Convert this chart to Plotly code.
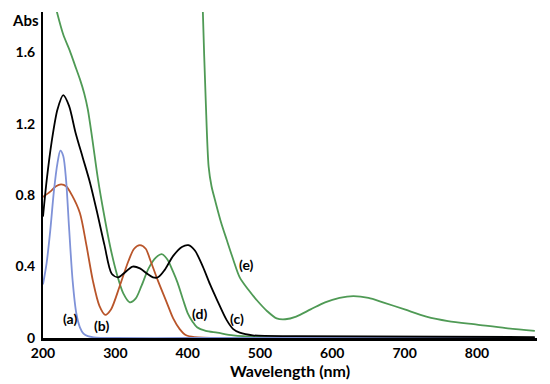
import plotly.graph_objects as go

# Curve (a) - blue
a_x = [200, 205, 210, 215, 220, 224, 228, 232, 236, 241, 246, 251, 256, 262, 270, 300, 400, 500, 600, 700, 800, 880]
a_y = [0.30, 0.42, 0.60, 0.82, 0.98, 1.05, 1.02, 0.88, 0.62, 0.32, 0.14, 0.06, 0.025, 0.01, 0.004, 0.0, 0.0, 0.0, 0.0, 0.0, 0.0, 0.0]

# Curve (b) - red/brown
b_x = [200, 210, 218, 225, 232, 240, 251, 260, 269, 278, 286, 294, 306, 318, 326, 334, 342, 348, 359, 371, 380, 389, 398, 410, 450, 600, 880]
b_y = [0.79, 0.82, 0.85, 0.86, 0.85, 0.80, 0.70, 0.52, 0.32, 0.18, 0.13, 0.16, 0.29, 0.43, 0.50, 0.52, 0.50, 0.44, 0.32, 0.20, 0.11, 0.05, 0.015, 0.005, 0.0, 0.0, 0.0]

# Curve (c) - black
c_x = [200, 205, 212, 220, 228, 236, 245, 255, 265, 275, 285, 295, 304, 314, 324, 334, 344, 352, 359, 368, 380, 392, 401, 410, 421, 431, 441, 454, 463, 472, 490, 550, 880]
c_y = [0.68, 0.88, 1.10, 1.28, 1.36, 1.30, 1.15, 1.01, 0.87, 0.70, 0.52, 0.36, 0.34, 0.37, 0.40, 0.39, 0.36, 0.34, 0.34, 0.38, 0.46, 0.51, 0.52, 0.49, 0.40, 0.30, 0.21, 0.10, 0.05, 0.03, 0.015, 0.01, 0.005]

# Curve (d) - green
d_x = [205, 212, 219, 228, 237, 244, 251, 257, 262, 268, 276, 284, 293, 302, 311, 320, 328, 336, 346, 356, 364, 372, 380, 386, 394, 400, 407, 413, 425, 441, 463, 500, 880]
d_y = [2.10, 1.95, 1.83, 1.70, 1.61, 1.53, 1.45, 1.37, 1.28, 1.12, 0.89, 0.70, 0.51, 0.36, 0.25, 0.20, 0.22, 0.29, 0.39, 0.45, 0.47, 0.44, 0.37, 0.31, 0.21, 0.14, 0.09, 0.06, 0.04, 0.03, 0.015, 0.006, 0.0]

# Curve (e) - green
e_x = [419, 421, 425, 429, 433, 438, 446, 454, 463, 472, 484, 496, 510, 523, 535, 550, 570, 590, 610, 629, 650, 670, 700, 730, 760, 800, 840, 880]
e_y = [2.20, 1.83, 1.33, 0.96, 0.85, 0.77, 0.65, 0.55, 0.44, 0.34, 0.27, 0.21, 0.15, 0.11, 0.105, 0.12, 0.16, 0.20, 0.225, 0.235, 0.225, 0.20, 0.16, 0.12, 0.095, 0.075, 0.055, 0.04]

x_ticks = [200, 300, 400, 500, 600, 700, 800]
y_ticks = [0, 0.4, 0.8, 1.2, 1.6]
y_tick_text = ["0", "0.4", "0.8", "1.2", "1.6"]

labels = ["(a)", "(b)", "(c)", "(d)", "(e)"]
label_x = [237, 281, 468, 416, 481]
label_y = [0.11, 0.07, 0.11, 0.14, 0.41]

BLUE = "#7f92d8"
RED = "#b9552a"
BLACK = "#000000"
GREEN = "#4f9a55"

fig = go.Figure()
for xs, ys, col in [(e_x, e_y, GREEN), (d_x, d_y, GREEN), (b_x, b_y, RED), (a_x, a_y, BLUE), (c_x, c_y, BLACK)]:
    fig.add_trace(go.Scatter(x=xs, y=ys, mode="lines",
                             line=dict(color=col, width=1.8, shape="spline", smoothing=0.8),
                             showlegend=False, hoverinfo="skip"))

for t, lx, ly in zip(labels, label_x, label_y):
    fig.add_annotation(x=lx, y=ly, text=t, showarrow=False,
                       font=dict(family="Lato", size=14, color="black", weight="bold"))

fig.add_annotation(xref="paper", yref="paper", x=-0.035, y=0.976, xanchor="center", yanchor="middle",
                   text="Abs", showarrow=False,
                   font=dict(family="Lato", size=15, color="black", weight="bold"))

fig.update_layout(
    width=550, height=384,
    margin=dict(l=43, r=13, t=12, b=46),
    paper_bgcolor="white", plot_bgcolor="white",
    font=dict(family="Lato", color="black"),
)
fig.update_xaxes(range=[200, 883], tickvals=x_ticks, ticks="", showgrid=False, zeroline=False,
                 showline=True, linecolor="black", linewidth=3, automargin=False,
                 tickfont=dict(family="Lato", size=14, color="black", weight="bold"),
                 title=dict(text="Wavelength (nm)", standoff=0,
                            font=dict(family="Lato", size=16, color="black", weight="bold")))
fig.update_yaxes(range=[0, 1.826], tickvals=y_ticks, ticktext=y_tick_text, ticks="", showgrid=False,
                 zeroline=False, showline=True, linecolor="black", linewidth=2, automargin=False,
                 ticklabelstandoff=3,
                 tickfont=dict(family="Lato", size=14, color="black", weight="bold"))

fig.write_html("out.html", config={"displayModeBar": False},
               post_script="document.body.style.margin='0';")
